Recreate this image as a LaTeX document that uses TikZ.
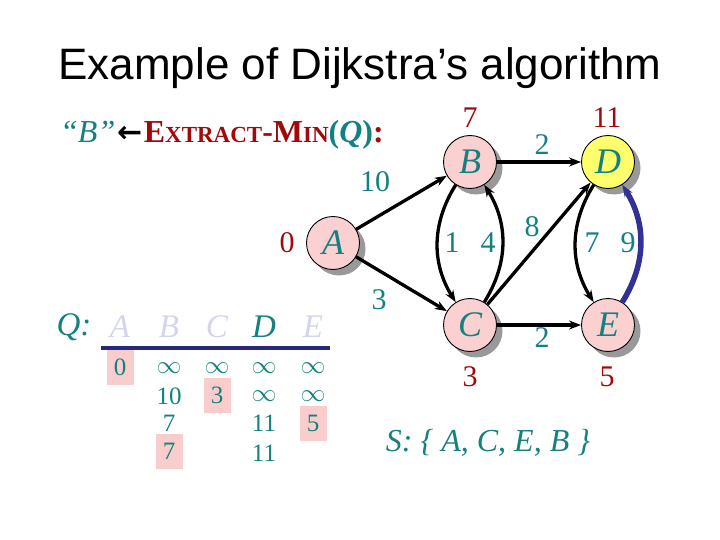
\documentclass[tikz,border=0pt]{standalone}
\usepackage{fontspec}
\setmainfont{Liberation Serif}
\newfontfamily\titlefont{Liberation Sans}
\newfontfamily\arrowfont{DejaVu Sans}
\usetikzlibrary{arrows.meta, shadows}
\definecolor{tealtext}{RGB}{20,128,128}
\definecolor{darkred}{RGB}{160,10,10}
\definecolor{nodepink}{RGB}{250,208,208}
\definecolor{dyellow}{RGB}{255,255,110}
\definecolor{navyedge}{RGB}{50,50,150}
\definecolor{faded}{RGB}{212,212,238}
\definecolor{hilite}{RGB}{250,205,205}

\begin{document}
\begin{tikzpicture}[
    x=1pt, y=-1pt, >={Stealth[length=12pt, width=9pt]},
    vertex/.style={circle, draw, line width=0.9pt, fill=nodepink, minimum size=53pt, inner sep=0pt,
        text=tealtext, font=\fontsize{36}{36}\selectfont\itshape,
        drop shadow={shadow xshift=6pt, shadow yshift=-6pt, fill=gray!80, opacity=1}},
    edge/.style={->, line width=3.3pt},
    relaxed/.style={->, line width=5.5pt, navyedge},
    weight/.style={text=tealtext, font=\fontsize{30}{30}\selectfont},
    dist/.style={text=darkred, font=\fontsize{30}{30}\selectfont},
    qletter/.style={font=\fontsize{33}{33}\selectfont\itshape, text=faded},
    val/.style={text=tealtext, font=\fontsize{25}{25}\selectfont, inner sep=0pt},
    picked/.style={val, fill=hilite, minimum width=27pt, minimum height=35pt}
]
    \useasboundingbox (0,0) rectangle (720,540);

    \node (title) at (360,68) {\titlefont\fontsize{44}{44}\selectfont Example of Dijkstra’s algorithm};
    \node[anchor=west, inner sep=0pt] (head) at (60,135) {%
        {\color{tealtext}\fontsize{32}{32}\selectfont\itshape “B”}%
        \,{\arrowfont\bfseries\fontsize{30}{30}\selectfont ←}\,%
        {\color{darkred}\bfseries\fontsize{32}{32}\selectfont E{\fontsize{23}{23}\selectfont XTRACT}-M{\fontsize{23}{23}\selectfont IN}}%
        {\color{tealtext}\bfseries\fontsize{32}{32}\selectfont(\textit{Q})}%
        {\color{darkred}\bfseries\fontsize{32}{32}\selectfont:}};

    % graph
    \node[vertex] (A) at (333,243) {A};
    \node[vertex] (B) at (470,162) {B};
    \node[vertex, fill=dyellow] (D) at (608,162) {D};
    \node[vertex] (C) at (470,325) {C};
    \node[vertex] (E) at (608,325) {E};

    \draw[edge] (A) -- (B);
    \draw[edge] (A) -- (C);
    \draw[edge] (B) -- (D);
    \draw[edge] (C) -- (D);
    \draw[edge] (C) -- (E);
    \draw[edge] (B) to[bend right=32] (C);
    \draw[edge] (C) to[bend right=32] (B);
    \draw[edge] (D) to[bend right=32] (E);
    \draw[relaxed] (E) to[bend right=32] (D);

    \node[weight] (wAB) at (375,182) {10};
    \node[weight] (wAC) at (379,300) {3};
    \node[weight] (wBD) at (542,145) {2};
    \node[weight] (wBC) at (452,243) {1};
    \node[weight] (wCB) at (488,243) {4};
    \node[weight] (wCD) at (532,227) {8};
    \node[weight] (wDE) at (592,243) {7};
    \node[weight] (wED) at (628,243) {9};
    \node[weight] (wCE) at (542,338) {2};

    \node[dist] (dA) at (287,243) {0};
    \node[dist] (dB) at (470,118) {7};
    \node[dist] (dD) at (607,118) {11};
    \node[dist] (dC) at (470,377) {3};
    \node[dist] (dE) at (607,377) {5};

    % queue
    \node[qletter, text=tealtext] (Q) at (74,327) {Q:};
    \node[qletter] (qA) at (120,327) {A};
    \node[qletter] (qB) at (169,327) {B};
    \node[qletter] (qC) at (217,327) {C};
    \node[qletter, text=tealtext] (qD) at (264,327) {D};
    \node[qletter] (qE) at (313,327) {E};
    \draw[-, line width=4pt, navyedge!80!black] (101,348) -- (330,348);

    \node[picked] (a0) at (120,367) {0};
    \node[val] (b0) at (169,368) {$\infty$};
    \node[val] (b1) at (169,396) {10};
    \node[val] (b2) at (169,423) {7};
    \node[picked] (b3) at (169,451) {7};
    \node[val] (c0) at (217,368) {$\infty$};
    \node[picked] (c1) at (217,395) {3};
    \node[val] (d0) at (264,368) {$\infty$};
    \node[val] (d1) at (264,396) {$\infty$};
    \node[val] (d2) at (264,423) {11};
    \node[val] (d3) at (264,453) {11};
    \node[val] (e0) at (313,368) {$\infty$};
    \node[val] (e1) at (313,396) {$\infty$};
    \node[picked] (e2) at (313,423) {5};

    \node[text=tealtext, font=\fontsize{32}{32}\selectfont\itshape] (S) at (488,443) {S: \{ A, C, E, B \}};
\end{tikzpicture}
\end{document}
